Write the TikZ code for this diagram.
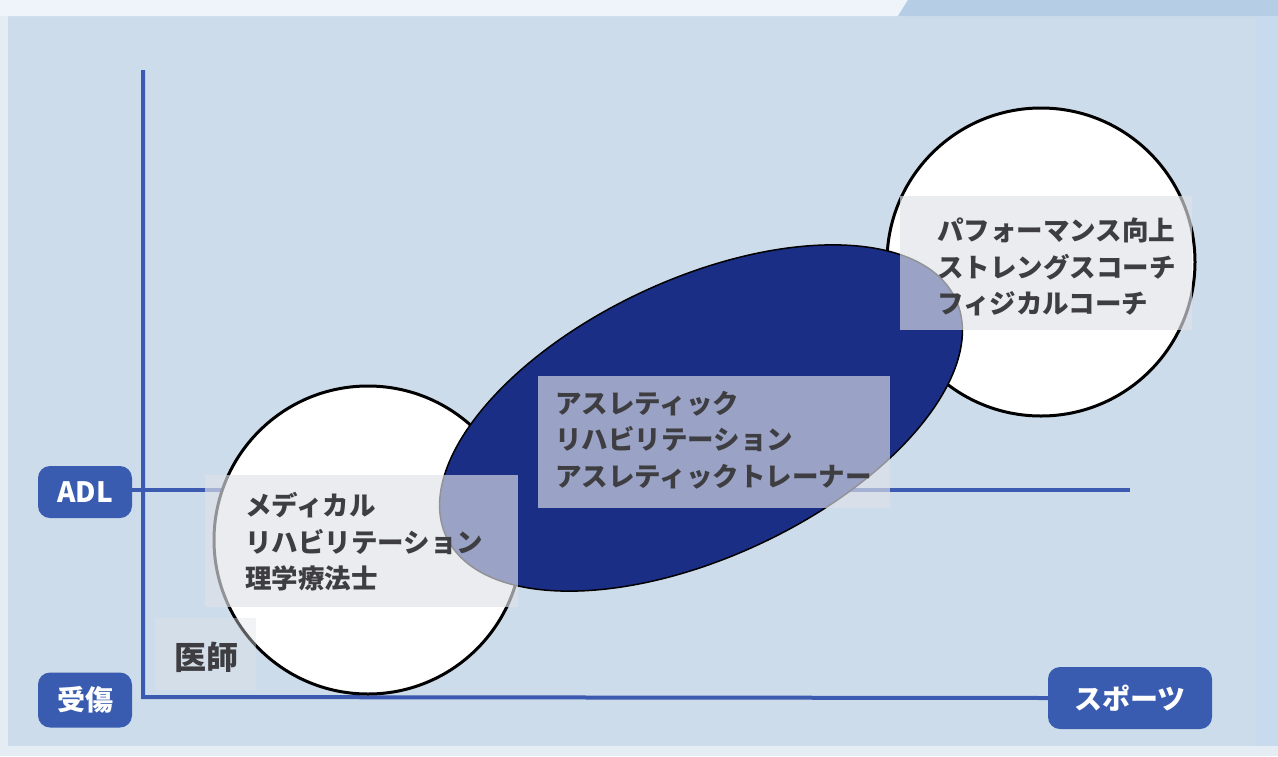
\documentclass[tikz,border=0pt]{standalone}
\usepackage{fontspec}
\newfontfamily\jp{Noto Sans CJK JP}
\usetikzlibrary{shapes.geometric}
\definecolor{panel}{RGB}{205,220,234}
\definecolor{topstrip}{RGB}{238,244,250}
\definecolor{topblue}{RGB}{182,205,230}
\definecolor{sidestrip}{RGB}{200,219,238}
\definecolor{botstrip}{RGB}{228,236,244}
\definecolor{axisblue}{RGB}{60,90,175}
\definecolor{tagblue}{RGB}{58,92,176}
\definecolor{navy}{RGB}{26,46,133}
\definecolor{veil}{RGB}{224,226,232}
\definecolor{txt}{RGB}{62,62,66}
\tikzset{
  axisline/.style={draw=axisblue, line width=4pt},
  tag/.style={fill=tagblue, rounded corners=12pt, text=white, font=\jp\bfseries\fontsize{28}{30}\selectfont, inner sep=0pt, align=center},
  bubble/.style={circle, draw=black, line width=3pt, fill=white, minimum size=308pt, inner sep=0pt},
  veilbox/.style={fill=veil, fill opacity=0.65, draw=none},
  body/.style={text=txt, font=\jp\bfseries\fontsize{26.5}{36.5}\selectfont, align=left, inner sep=0pt, anchor=west}
}
\begin{document}
\begin{tikzpicture}[x=1pt,y=-1pt]
\useasboundingbox (0,0) rectangle (1278,756);
% background panels
\fill[panel] (0,0) rectangle (1278,756);
\fill[topstrip] (0,0) -- (908,0) -- (898,16) -- (0,16) -- cycle;
\fill[topblue] (908,0) -- (1278,0) -- (1278,16) -- (898,16) -- cycle;
\fill[sidestrip] (1256,16) rectangle (1278,756);
\fill[botstrip] (0,746) rectangle (1278,756);
\fill[botstrip] (0,16) rectangle (8,746);

% axis tags
\node[tag, minimum width=94pt, minimum height=52pt] (adl) at (85,492) {ADL};
\node[tag, minimum width=94pt, minimum height=55pt] (injury) at (85,700) {受傷};
\node[tag, minimum width=164pt, minimum height=62pt] (sports) at (1130,698) {スポーツ};

% axes
\coordinate (ytop) at (143,70);
\coordinate (origin) at (143,697);
\coordinate (adlend) at (1130,490);
\draw[axisline] (ytop) -- (origin) -- (sports.west);
\draw[axisline] (adl.east |- adlend) -- (adlend);

% circles and ellipse
\node[bubble] (left) at (368,540) {};
\node[bubble] (right) at (1041,262) {};
\node[ellipse, fill=navy, draw=black, line width=1.5pt, minimum width=562pt, minimum height=278pt, rotate=25, inner sep=0pt] (mid) at (701,418) {};

% veil boxes
\fill[veilbox] (205,475) rectangle (518,607);
\fill[veilbox] (538,376) rectangle (890,508);
\fill[veilbox] (900,196) rectangle (1192,330);
\fill[veilbox, fill opacity=0.4] (155,618) rectangle (256,690);

% texts
\node[body] (medtext) at (245,542) {メディカル\\リハビリテーション\\理学療法士};
\node[body] (athtext) at (555,440) {アスレティック\\リハビリテーション\\アスレティックトレーナー};
\node[body] (perftext) at (937,267) {パフォーマンス向上\\ストレングスコーチ\\フィジカルコーチ};
\node[text=txt, font=\jp\bfseries\fontsize{32}{34}\selectfont, inner sep=0pt] (doctor) at (206,657) {医師};
\end{tikzpicture}
\end{document}
